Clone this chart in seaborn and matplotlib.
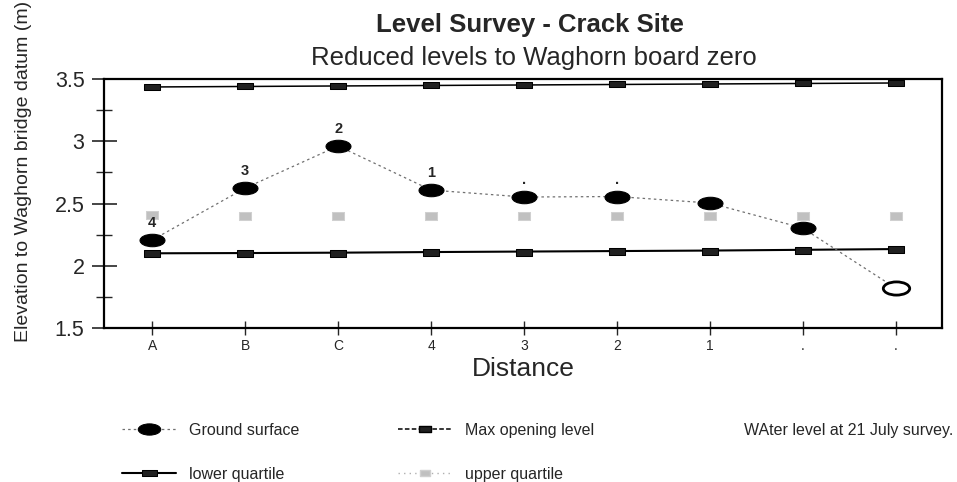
import numpy as np
import seaborn as sns
import matplotlib.pyplot as plt
from matplotlib.path import Path
from matplotlib.lines import Line2D

# data
stations = ['A', 'B', 'C', '4', '3', '2', '1', '.', '.']
ground = [2.207, 2.624, 2.962, 2.608, 2.552, 2.556, 2.504, 2.303, 1.821]
ground_labels = ['4', '3', '2', '1', '.', '.', '', '', '']
max_opening = [3.436, 3.440, 3.444, 3.448, 3.452, 3.456, 3.460, 3.464, 3.468]
lower_quartile = [2.100, 2.102, 2.105, 2.110, 2.114, 2.118, 2.122, 2.128, 2.134]
upper_quartile = [2.410, 2.400, 2.400, 2.400, 2.400, 2.400, 2.400, 2.400, 2.400]
water_station = [8]
water_level = [1.821]
y_major = [1.5, 2.0, 2.5, 3.0, 3.5]
y_major_labels = ['1.5', '2', '2.5', '3', '3.5']
y_minor = [1.75, 2.25, 2.75, 3.25]

sns.set_style('white')
plt.rcParams['font.family'] = ['Liberation Sans', 'DejaVu Sans']

# marker shapes
circ = Path.unit_circle()
ellipse = Path(circ.vertices * np.array([1.0, 0.5]), circ.codes)
rect = Path([(-1, -0.42), (1, -0.42), (1, 0.42), (-1, 0.42), (-1, -0.42)],
            [Path.MOVETO, Path.LINETO, Path.LINETO, Path.LINETO, Path.CLOSEPOLY])
rect_small = Path([(-1, -0.6), (1, -0.6), (1, 0.6), (-1, 0.6), (-1, -0.6)],
                  [Path.MOVETO, Path.LINETO, Path.LINETO, Path.LINETO, Path.CLOSEPOLY])

fig = plt.figure(figsize=(9.57, 4.82), dpi=100)
ax = fig.add_axes([0.1087, 0.3195, 0.8756, 0.5166])
x = np.arange(len(stations))

sns.lineplot(x=x, y=max_opening, ax=ax, color='black', linewidth=1.1,
             marker=rect, markersize=11.5, markeredgecolor='black',
             markerfacecolor='#202020', label='Max opening level', legend=False, zorder=3)
sns.lineplot(x=x, y=lower_quartile, ax=ax, color='black', linewidth=1.5,
             marker=rect, markersize=12, markeredgecolor='black',
             markerfacecolor='#202020', label='lower quartile', legend=False, zorder=3)
sns.lineplot(x=x, y=upper_quartile, ax=ax, color='#b0b0b0', linestyle='none',
             marker=rect_small, markersize=8.5, markeredgecolor='#d0d0d0',
             markerfacecolor='#c0c0c0', label='upper quartile', legend=False, zorder=3)
sns.lineplot(x=x, y=ground, ax=ax, color='#707070', linewidth=0.9, dashes=(2, 2.5),
             marker=ellipse, markersize=18, markeredgecolor='black',
             markerfacecolor='black', label='Ground surface', legend=False, zorder=4)
sns.lineplot(x=water_station, y=water_level, ax=ax, color='black', linestyle='none',
             marker=ellipse, markersize=19, markeredgecolor='black', markeredgewidth=2,
             markerfacecolor='white', label='WAter level at 21 July survey.',
             legend=False, zorder=5)

for xi, yi, lab in zip(x, ground, ground_labels):
    if lab:
        ax.annotate(lab, (xi, yi), xytext=(0, 12), textcoords='offset points',
                    ha='center', va='center', fontsize=10.5, fontweight='bold')

ax.set_xlim(-0.52, 8.5)
ax.set_ylim(1.5, 3.5)
ax.set_xticks(x)
ax.set_xticklabels(stations)
ax.set_yticks(y_major)
ax.set_yticklabels(y_major_labels)
ax.set_yticks(y_minor, minor=True)
ax.tick_params(axis='y', which='major', direction='inout', length=18, width=1.2,
               labelsize=15.5, pad=5, left=True)
ax.tick_params(axis='y', which='minor', direction='inout', length=12, width=1.0, left=True)
ax.tick_params(axis='x', direction='inout', length=10, width=1.0, labelsize=10,
               pad=3, bottom=True)
for side in ['left', 'right', 'top', 'bottom']:
    ax.spines[side].set_visible(True)
    ax.spines[side].set_color('black')
    ax.spines[side].set_linewidth(1.6)

ax.set_xlabel('Distance', fontsize=19)
ax.xaxis.set_label_coords(0.5, -0.115)
ax.set_ylabel('Elevation to Waghorn bridge datum (m)', fontsize=14)
ax.yaxis.set_label_coords(-0.086, 0.627)

fig.text(0.5538, 1 - 32 / 482, 'Level Survey - Crack Site', ha='center',
         va='baseline', fontsize=18.5, fontweight='bold')
fig.text(0.558, 1 - 65 / 482, 'Reduced levels to Waghorn board zero', ha='center',
         va='baseline', fontsize=18.5)

handles, labels = ax.get_legend_handles_labels()
h = dict(zip(labels, handles))
blank = Line2D([], [], linestyle='none')
max_handle = Line2D([], [], color='black', linewidth=1.1, dashes=(3, 1.5),
                    marker=rect, markersize=10, markerfacecolor='#202020',
                    markeredgecolor='black')
upper_handle = Line2D([], [], color='#b0b0b0', linewidth=1.0, dashes=(1, 3),
                      marker=rect_small, markersize=7.5, markerfacecolor='#c0c0c0',
                      markeredgecolor='#d0d0d0')

leg_kw = dict(frameon=False, fontsize=11.5, handlelength=3.4, handletextpad=0.8,
              labelspacing=1.8, borderpad=0, borderaxespad=0, loc='upper left',
              markerscale=0.9)
fig.legend([h['Ground surface'], h['lower quartile']],
           ['Ground surface', 'lower quartile'],
           bbox_to_anchor=(122 / 957, 1 - 423 / 482), **leg_kw)
fig.legend([max_handle, upper_handle],
           ['Max opening level', 'upper quartile'],
           bbox_to_anchor=(398 / 957, 1 - 423 / 482), **leg_kw)
fig.legend([blank], ['WAter level at 21 July survey.'],
           bbox_to_anchor=(677 / 957, 1 - 423 / 482), **leg_kw)

fig.savefig('out.png', dpi=100)
